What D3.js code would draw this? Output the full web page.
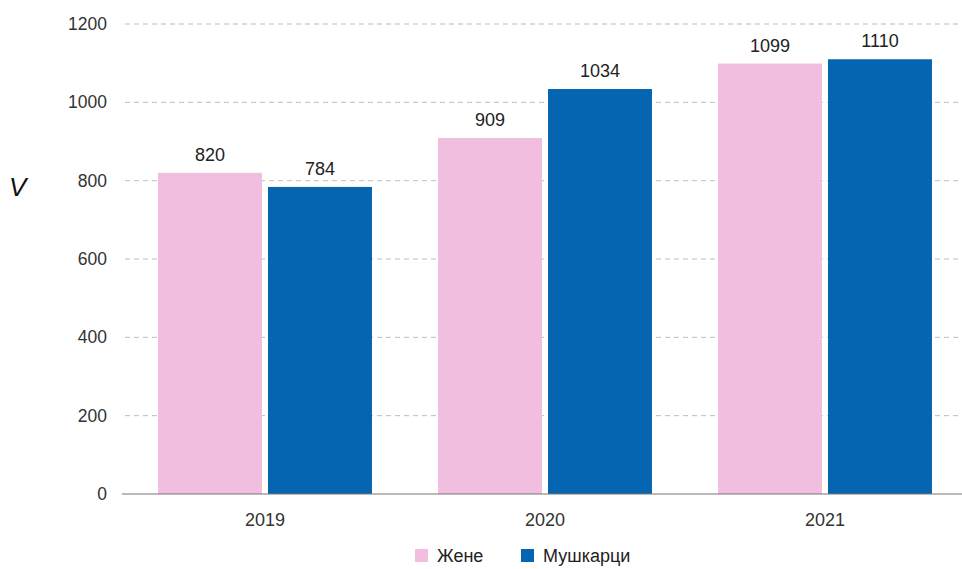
<!DOCTYPE html>
<html>
<head>
<meta charset="utf-8">
<script src="https://cdn.jsdelivr.net/npm/d3@7"></script>
<style>
  body { margin: 0; background: #fff; }
  svg { display: block; font-family: "Liberation Sans", Arial, sans-serif; }
</style>
</head>
<body>
<svg id="chart" width="962" height="569"></svg>
<script>
const years = ["2019", "2020", "2021"];
const seriesNames = ["Жене", "Мушкарци"];
const zene = [820, 909, 1099];
const muskarci = [784, 1034, 1110];
const yTicks = [0, 200, 400, 600, 800, 1000, 1200];
const colors = ["#f1bedf", "#0565b0"];

const svg = d3.select("#chart");
const width = +svg.attr("width");

const rows = years.map((y, i) => ({ year: y, values: [zene[i], muskarci[i]] }));

const x0 = d3.scaleBand()
    .domain(years)
    .range([125, 965])
    .paddingInner(0.236)
    .paddingOuter(0.118);

const x1 = d3.scaleBand()
    .domain(seriesNames)
    .range([0, x0.bandwidth()])
    .paddingInner(0.055);

const y = d3.scaleLinear()
    .domain([0, 1200])
    .range([494, 24]);

// grid lines
svg.append("g")
    .selectAll("line")
    .data(yTicks.filter(d => d > 0))
    .enter().append("line")
    .attr("x1", 125)
    .attr("x2", width)
    .attr("y1", d => y(d))
    .attr("y2", d => y(d))
    .attr("stroke", "#bdbdbd")
    .attr("stroke-width", 1)
    .attr("stroke-dasharray", "5,4");

// y labels
svg.append("g")
    .style("font-size", "17.5px")
    .attr("fill", "#333")
    .selectAll("text")
    .data(yTicks)
    .enter().append("text")
    .attr("x", 107)
    .attr("y", d => y(d))
    .attr("dy", "0.35em")
    .attr("text-anchor", "end")
    .text(d => d);

// bars
const group = svg.append("g")
    .selectAll("g")
    .data(rows)
    .enter().append("g")
    .attr("transform", d => `translate(${x0(d.year)},0)`);

group.selectAll("rect")
    .data(d => d.values.map((v, i) => ({ name: seriesNames[i], value: v, i: i })))
    .enter().append("rect")
    .attr("x", d => x1(d.name))
    .attr("y", d => y(d.value))
    .attr("width", x1.bandwidth())
    .attr("height", d => y(0) - y(d.value))
    .attr("fill", d => colors[d.i]);

group.selectAll("text")
    .data(d => d.values.map((v, i) => ({ name: seriesNames[i], value: v })))
    .enter().append("text")
    .attr("x", d => x1(d.name) + x1.bandwidth() / 2)
    .attr("y", d => y(d.value) - 12)
    .attr("text-anchor", "middle")
    .style("font-size", "18px")
    .attr("fill", "#222")
    .text(d => d.value);

// baseline
svg.append("line")
    .attr("x1", 122)
    .attr("x2", width)
    .attr("y1", y(0))
    .attr("y2", y(0))
    .attr("stroke", "#777")
    .attr("stroke-width", 1.2);

// x labels
svg.append("g")
    .style("font-size", "18px")
    .attr("fill", "#333")
    .selectAll("text")
    .data(years)
    .enter().append("text")
    .attr("x", d => x0(d) + x0.bandwidth() / 2)
    .attr("y", 526)
    .attr("text-anchor", "middle")
    .text(d => d);

// stray axis title fragment
svg.append("text")
    .attr("x", 9)
    .attr("y", 196)
    .style("font-size", "26px")
    .style("font-style", "italic")
    .attr("fill", "#111")
    .text("V");

// legend
const legendX = [415, 521];
const legend = svg.append("g")
    .selectAll("g")
    .data(seriesNames)
    .enter().append("g")
    .attr("transform", (d, i) => `translate(${legendX[i]},549)`);

legend.append("rect")
    .attr("width", 13)
    .attr("height", 13)
    .attr("fill", (d, i) => colors[i]);

legend.append("text")
    .attr("x", 22)
    .attr("y", 7)
    .attr("dy", "0.35em")
    .style("font-size", "18px")
    .attr("fill", "#222")
    .text(d => d);
</script>
</body>
</html>
